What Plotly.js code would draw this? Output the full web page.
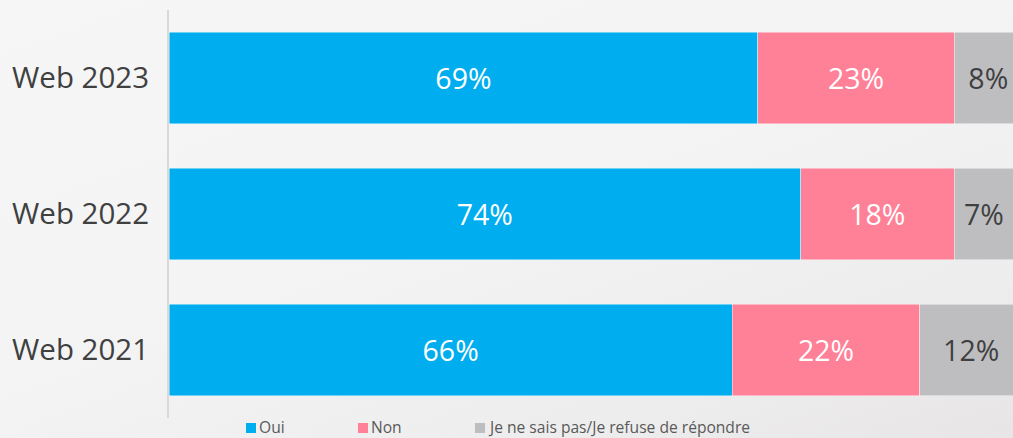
<!DOCTYPE html>
<html>
<head>
<meta charset="utf-8">
<script src="https://cdn.plot.ly/plotly-3.0.1.min.js"></script>
<style>
  html, body { margin: 0; padding: 0; }
  body {
    width: 1013px; height: 438px; overflow: hidden;
    background: linear-gradient(160deg, #f6f6f6 0%, #f4f4f4 45%, #eeeded 80%, #e7e5e5 100%);
  }
  #chart { width: 1013px; height: 438px; }
</style>
</head>
<body>
<div id="chart"></div>
<script>
// Survey waves, bottom to top
const categories = ['Web 2021', 'Web 2022', 'Web 2023'];

// Share of answers per wave (%)
const oui = [66, 74, 69];
const non = [22, 18, 23];
const nsp = [12, 7, 8];

const seriesNames = ['Oui', 'Non', 'Je ne sais pas/Je refuse de répondre'];
const seriesColors = ['#00AEEF', '#FF8197', '#BEBEC0'];
const labelColors = ['#FFFFFF', '#FFFFFF', '#404040'];
const seriesValues = [oui, non, nsp];

const FONT = '"Open Sans", "Noto Sans", sans-serif';

const traces = seriesValues.map((vals, i) => ({
  type: 'bar',
  orientation: 'h',
  name: seriesNames[i],
  y: categories,
  x: vals,
  text: vals.map(v => v + '%'),
  texttemplate: '%{text}',
  textposition: 'inside',
  insidetextanchor: 'middle',
  constraintext: 'none',
  textfont: { family: FONT, size: 28.5, color: labelColors[i] },
  marker: { color: seriesColors[i], line: { color: 'rgba(255,255,255,0.55)', width: 0.8 } },
  hoverinfo: 'none'
}));

// Legend drawn as small squares followed by the series name
const legendX = [246, 358, 475];   // px from the left edge of the page
const legendY = 427;               // px from the top of the page
const W = 1013, H = 438;
const M = { l: 169, r: 0, t: 10, b: 20 };
const plotW = W - M.l - M.r, plotH = H - M.t - M.b;
const toPaperX = px => (px - M.l) / plotW;
const toPaperY = py => (H - M.b - py) / plotH;

const shapes = seriesNames.map((n, i) => ({
  type: 'rect', xref: 'paper', yref: 'paper',
  x0: toPaperX(legendX[i]), x1: toPaperX(legendX[i] + 10),
  y0: toPaperY(legendY - 4), y1: toPaperY(legendY + 6),
  fillcolor: seriesColors[i], line: { width: 0 }
}));

const annotations = seriesNames.map((n, i) => ({
  xref: 'paper', yref: 'paper',
  x: toPaperX(legendX[i] + 12), y: toPaperY(legendY),
  xanchor: 'left', yanchor: 'middle',
  borderpad: 0,
  text: n, showarrow: false,
  font: { family: FONT, size: 15.6, color: '#595959' }
}));

const layout = {
  width: W, height: H,
  margin: M,
  barmode: 'stack',
  bargap: 0.33,
  paper_bgcolor: 'rgba(0,0,0,0)',
  plot_bgcolor: 'rgba(0,0,0,0)',
  showlegend: false,
  font: { family: FONT, color: '#404040' },
  xaxis: {
    range: [0, 98.9],
    showgrid: false, zeroline: false, showticklabels: false, showline: false,
    fixedrange: true
  },
  yaxis: {
    type: 'category',
    categoryorder: 'array', categoryarray: categories,
    showgrid: false, zeroline: false,
    showline: true, linecolor: '#D9D9D9', linewidth: 2,
    ticks: '', ticklabelstandoff: 12,
    tickfont: { family: FONT, size: 29.5, color: '#404040' },
    fixedrange: true
  },
  shapes: shapes,
  annotations: annotations
};

Plotly.newPlot('chart', traces, layout, { displayModeBar: false, staticPlot: true });
</script>
</body>
</html>
